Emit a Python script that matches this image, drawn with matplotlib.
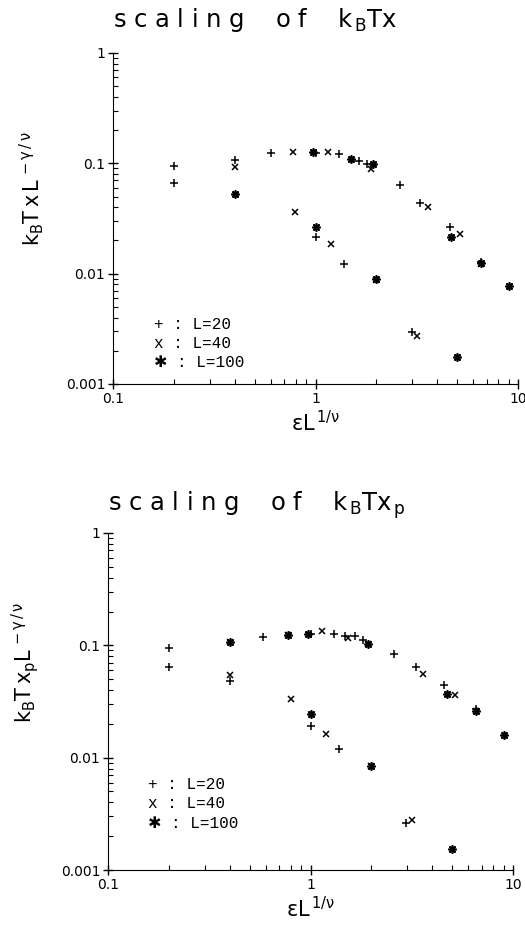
import matplotlib
matplotlib.use("Agg")
import matplotlib.pyplot as plt
import matplotlib.ticker as mticker

plt.rcParams["mathtext.default"] = "regular"
plt.rcParams["font.family"] = ["DejaVu Sans"]

# ---- upper panel: k_B T chi L^{-gamma/nu} ----
top_x_L20 = [0.2, 0.4, 0.6, 1.0, 1.3, 1.64, 1.8, 2.6, 3.3, 4.6, 6.6, 0.2, 1.0, 1.38, 3.0]
top_y_L20 = [0.094, 0.107, 0.124, 0.124, 0.122, 0.105, 0.098, 0.064, 0.044, 0.0263, 0.0128,
             0.066, 0.0213, 0.0122, 0.00293]
top_x_L40 = [0.4, 0.77, 1.15, 1.88, 3.6, 5.17, 6.56, 0.79, 1.19, 1.98, 3.18]
top_y_L40 = [0.093, 0.126, 0.126, 0.089, 0.040, 0.023, 0.0122, 0.0365, 0.0186, 0.0087, 0.00273]
top_x_L100 = [0.97, 1.49, 1.93, 4.69, 6.56, 9.0, 0.4, 1.0, 1.98, 4.98]
top_y_L100 = [0.126, 0.109, 0.099, 0.0216, 0.0125, 0.0078, 0.0528, 0.0266, 0.0089, 0.00174]

# ---- lower panel: k_B T chi_p L^{-gamma/nu} ----
bot_x_L20 = [0.2, 0.58, 1.0, 1.30, 1.48, 1.65, 1.81, 2.59, 3.32, 4.58, 6.6,
             0.2, 0.4, 1.0, 1.39, 2.96]
bot_y_L20 = [0.095, 0.119, 0.126, 0.127, 0.122, 0.120, 0.111, 0.083, 0.064, 0.044, 0.027,
             0.064, 0.048, 0.019, 0.0119, 0.0026]
bot_x_L40 = [0.4, 0.77, 1.14, 1.54, 1.93, 3.6, 5.18, 6.6, 0.4, 0.8, 1.19, 1.98, 3.18]
bot_y_L40 = [0.106, 0.124, 0.133, 0.117, 0.102, 0.055, 0.036, 0.026,
             0.054, 0.033, 0.0164, 0.0085, 0.0028]
bot_x_L100 = [0.4, 0.77, 0.975, 1.93, 4.72, 6.6, 9.0, 1.0, 1.98, 5.0]
bot_y_L100 = [0.106, 0.124, 0.126, 0.103, 0.0368, 0.026, 0.016, 0.0245, 0.0085, 0.00153]

x_ticks = [0.1, 1, 10]
x_ticklabels = ["0.1", "1", "10"]
y_ticks = [0.001, 0.01, 0.1, 1]
y_ticklabels = ["0.001", "0.01", "0.1", "1"]
legend_lines = ["+ : L=20", "x : L=40", "\u2731 : L=100"]

fig = plt.figure(figsize=(5.25, 9.4), dpi=100)
ax1 = fig.add_axes([113 / 525, 1 - 384 / 940, 405 / 525, 331 / 940])
ax2 = fig.add_axes([108 / 525, 1 - 870 / 940, 405 / 525, 337 / 940])


def draw_panel(ax, d20, d40, d100, ylabel, ylab_y, leg_y):
    ax.plot(d20[0], d20[1], ls="none", marker="+", ms=6, mew=1.1, color="black")
    ax.plot(d40[0], d40[1], ls="none", marker="x", ms=5, mew=1.1, color="black")
    # L=100 drawn as a heavy asterisk
    ax.plot(d100[0], d100[1], ls="none", marker=(8, 2, 0), ms=6, mew=1.2, color="black")
    ax.plot(d100[0], d100[1], ls="none", marker="s", ms=2.5, color="black")
    ax.set_xscale("log")
    ax.set_yscale("log")
    ax.set_xlim(0.1, 10)
    ax.set_ylim(0.001, 1)
    for s in ("top", "right"):
        ax.spines[s].set_visible(False)
    ax.xaxis.set_major_locator(mticker.FixedLocator(x_ticks))
    ax.xaxis.set_major_formatter(mticker.FixedFormatter(x_ticklabels))
    ax.yaxis.set_major_locator(mticker.FixedLocator(y_ticks))
    ax.yaxis.set_major_formatter(mticker.FixedFormatter(y_ticklabels))
    ax.xaxis.set_minor_formatter(mticker.NullFormatter())
    ax.yaxis.set_minor_formatter(mticker.NullFormatter())
    ax.tick_params(which="major", direction="inout", length=7, width=1, labelsize=10, pad=2)
    ax.tick_params(which="minor", direction="in", length=3.5, width=0.8)
    ax.set_ylabel(ylabel, fontsize=15)
    ax.yaxis.set_label_coords(-0.165, ylab_y)
    ax.set_xlabel("\u03b5L$^{\\,1/\\nu}$", fontsize=15, labelpad=3)
    for i, line in enumerate(legend_lines):
        ax.text(0.1, leg_y - i * 0.058, line, transform=ax.transAxes, fontsize=11.5,
                family=["Liberation Mono", "DejaVu Sans"], va="center")


draw_panel(ax1, (top_x_L20, top_y_L20), (top_x_L40, top_y_L40), (top_x_L100, top_y_L100),
           "k$_B$T$\\,$x$\\,$L$^{\\,-\\gamma\\,/\\,\\nu}$", 0.59, 0.18)
draw_panel(ax2, (bot_x_L20, bot_y_L20), (bot_x_L40, bot_y_L40), (bot_x_L100, bot_y_L100),
           "k$_B$T$\\,$x$_p$L$^{\\,-\\gamma\\,/\\,\\nu}$", 0.617, 0.255)

fig.text(113 / 525, 1 - 20 / 940, "s c a l i n g    o f    k$_{\\,B}$Tx",
         fontsize=17.5, va="center")
fig.text(108 / 525, 1 - 505 / 940, "s c a l i n g    o f    k$_{\\,B}$Tx$_{\\,p}$",
         fontsize=17.5, va="center")

fig.savefig("out.png", dpi=100)
